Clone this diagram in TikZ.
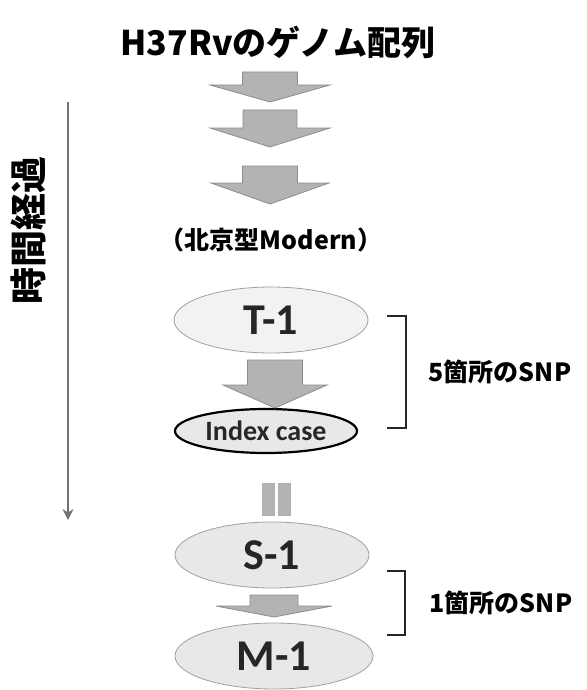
\documentclass[tikz,border=0pt]{standalone}
\usepackage{fontspec}
\setmainfont{Carlito}
\newfontfamily\jp{Noto Sans CJK JP}
\usetikzlibrary{arrows.meta,positioning,shapes.geometric}

\definecolor{arrowfill}{HTML}{B3B3B3}
\definecolor{arrowedge}{HTML}{8C8C8C}
\definecolor{cellfill}{HTML}{E8E8E8}
\definecolor{paleedge}{HTML}{A0A0A0}

% wide block arrow: centre x, top, start of head, tip, half shaft, half head
\newcommand{\blockarrow}[6]{%
  \draw[blockarrow] (#1-#5,#2) -- (#1+#5,#2) -- (#1+#5,#3) -- (#1+#6,#3)
    -- (#1,#4) -- (#1-#6,#3) -- (#1-#5,#3) -- cycle;}

\tikzset{
  blockarrow/.style={fill=arrowfill,draw=arrowedge,line width=0.8pt,line join=miter},
  isolate/.style={ellipse,fill=cellfill,draw=paleedge,line width=0.8pt,
    minimum width=194,minimum height=66,inner sep=0pt,
    text=black!85,font=\fontsize{44}{44}\bfseries\selectfont},
  snplabel/.style={font=\jp\fontsize{25}{25}\bfseries\selectfont},
  bracket/.style={draw=black!85,line width=1.4pt}
}

\begin{document}
\begin{tikzpicture}[x=1pt,y=-1pt]
\useasboundingbox (0,0) rectangle (586,690);

\node[font=\jp\fontsize{34}{34}\bfseries\selectfont] (genome) at (278,42) {H37Rvのゲノム配列};

\blockarrow{270}{72}{85}{102}{27.5}{60}
\blockarrow{270}{110}{128}{147}{27}{60}
\blockarrow{270}{166}{183}{204}{27.5}{59}

\node[font=\jp\fontsize{25}{25}\bfseries\selectfont] (beijing) at (271,240) {（北京型Modern）};

\node[isolate,fill=black!5] (t1) at (271,320) {T-1};
\node[isolate,minimum width=182,minimum height=44,draw=black,line width=2.2pt,
      font=\fontsize{28}{28}\bfseries\selectfont] (index) at (266,431) {Index case};
\node[isolate] (s1) at (272,555) {S-1};
\node[isolate,minimum width=198] (m1) at (274,656) {M-1};

\blockarrow{275}{360}{385}{408}{27.5}{52}
\blockarrow{274}{595}{606}{617}{24}{58}

% equal sign between index case and S-1
\fill[arrowfill,draw=arrowedge!70,line width=0.5pt] (262,483) rectangle (274,515);
\fill[arrowfill,draw=arrowedge!70,line width=0.5pt] (278,483) rectangle (290,515);

% brackets with SNP counts
\coordinate (b5top) at (387,316);
\coordinate (b5bot) at (387,428);
\draw[bracket] (b5top) -| (406,428) -- (b5bot);
\node[snplabel] (snp5) at (500,372) {5箇所のSNP};

\coordinate (b1top) at (387,571);
\coordinate (b1bot) at (387,635);
\draw[bracket] (b1top) -| (405,635) -- (b1bot);
\node[snplabel] (snp1) at (501,603) {1箇所のSNP};

% time axis
\coordinate (tstart) at (68,102);
\coordinate (tend) at (68,520);
\draw[-{Stealth[length=11pt,width=11pt]},draw=black!55,line width=2.2pt] (tstart) -- (tend);
\node[font=\jp\fontsize{37}{37}\bfseries\selectfont,rotate=90] (elapsed) at (28,230) {時間経過};

\end{tikzpicture}
\end{document}
